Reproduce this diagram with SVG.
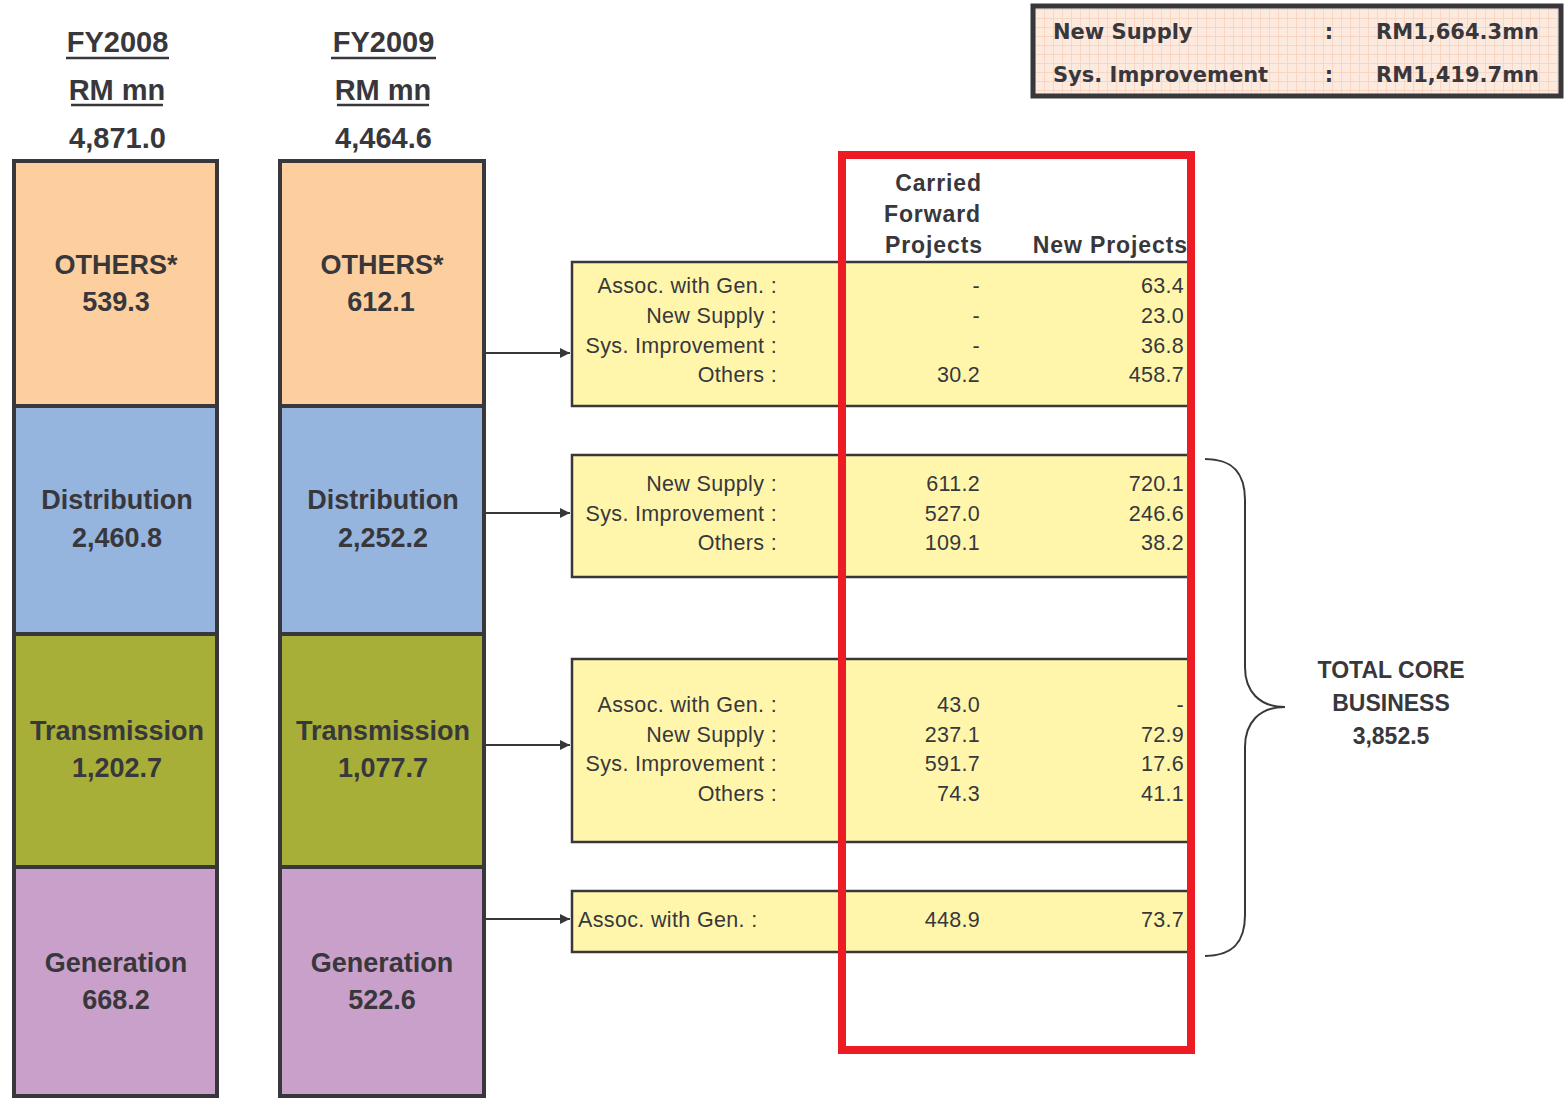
<svg xmlns="http://www.w3.org/2000/svg" width="1564" height="1098" viewBox="0 0 1564 1098">
<style>
.t{font-family:"Liberation Sans",Arial,sans-serif;fill:#38373c}
.b{font-weight:bold}
.h{font-size:29px;font-weight:bold;text-anchor:middle}
.bar{font-size:27px;font-weight:bold;text-anchor:middle}
.lab{font-size:21.5px;text-anchor:end;letter-spacing:0.35px}
.val{font-size:21.5px;text-anchor:end;letter-spacing:0.3px}
.col{font-size:23px;font-weight:bold;text-anchor:end;letter-spacing:0.9px}
.seg{stroke:#38373c;stroke-width:4}
.box{fill:#FFF6AB;stroke:#38373c;stroke-width:2.5}
.conn{stroke:#38373c;stroke-width:2;fill:none}
.leg{font-family:"DejaVu Sans",Verdana,sans-serif;font-size:21px;font-weight:bold;fill:#38373c}
</style>
<defs>
<marker id="ah" viewBox="0 0 10 10" refX="10" refY="5" markerWidth="5" markerHeight="5" orient="auto" markerUnits="strokeWidth">
<path d="M0,0 L10,5 L0,10 z" fill="#38373c"/>
</marker>
<pattern id="grid" width="9" height="9" patternUnits="userSpaceOnUse">
<rect width="9" height="9" fill="#FDEADF"/>
<path d="M0,0.5 H9 M0.5,0 V9" stroke="#F8D6C3" stroke-width="1"/>
</pattern>
</defs>
<rect width="1564" height="1098" fill="#ffffff"/>

<g id="legend">
<rect x="1033" y="6" width="528" height="90" fill="url(#grid)" stroke="#38373c" stroke-width="5"/>
<text class="leg" x="1053" y="38.5">New Supply</text>
<text class="leg" x="1329" y="38.5" text-anchor="middle">:</text>
<text class="leg" x="1539" y="38.5" text-anchor="end">RM1,664.3mn</text>
<text class="leg" x="1053" y="81.5">Sys. Improvement</text>
<text class="leg" x="1329" y="81.5" text-anchor="middle">:</text>
<text class="leg" x="1539" y="81.5" text-anchor="end">RM1,419.7mn</text>
</g>

<g id="header-fy2008">
<text class="t h" x="117.5" y="52">FY2008</text>
<line x1="66" y1="58" x2="169" y2="58" stroke="#38373c" stroke-width="2.5"/>
<text class="t h" x="117" y="99.5">RM mn</text>
<line x1="71" y1="105" x2="163" y2="105" stroke="#38373c" stroke-width="2.5"/>
<text class="t h" x="117.5" y="148">4,871.0</text>
</g>
<g id="header-fy2009">
<text class="t h" x="383.5" y="52">FY2009</text>
<line x1="331" y1="58" x2="436" y2="58" stroke="#38373c" stroke-width="2.5"/>
<text class="t h" x="383" y="99.5">RM mn</text>
<line x1="337" y1="105" x2="429" y2="105" stroke="#38373c" stroke-width="2.5"/>
<text class="t h" x="383.5" y="148">4,464.6</text>
</g>

<g id="bar-fy2008">
<rect class="seg" x="14" y="161" width="203" height="245" fill="#FDCF9E"/>
<rect class="seg" x="14" y="406" width="203" height="228" fill="#95B5DE"/>
<rect class="seg" x="14" y="634" width="203" height="233" fill="#A7AF38"/>
<rect class="seg" x="14" y="867" width="203" height="229" fill="#C9A0C9"/>
<text class="t bar" x="116" y="274">OTHERS*</text>
<text class="t bar" x="116" y="311">539.3</text>
<text class="t bar" x="117" y="509">Distribution</text>
<text class="t bar" x="117" y="546.5">2,460.8</text>
<text class="t bar" x="117" y="740">Transmission</text>
<text class="t bar" x="117" y="777">1,202.7</text>
<text class="t bar" x="116" y="972">Generation</text>
<text class="t bar" x="116" y="1008.5">668.2</text>
</g>

<g id="bar-fy2009">
<rect class="seg" x="280" y="161" width="204" height="245" fill="#FDCF9E"/>
<rect class="seg" x="280" y="406" width="204" height="228" fill="#95B5DE"/>
<rect class="seg" x="280" y="634" width="204" height="233" fill="#A7AF38"/>
<rect class="seg" x="280" y="867" width="204" height="229" fill="#C9A0C9"/>
<text class="t bar" x="382" y="274">OTHERS*</text>
<text class="t bar" x="381" y="311">612.1</text>
<text class="t bar" x="383" y="509">Distribution</text>
<text class="t bar" x="383" y="546.5">2,252.2</text>
<text class="t bar" x="383" y="740">Transmission</text>
<text class="t bar" x="383" y="777">1,077.7</text>
<text class="t bar" x="382" y="972">Generation</text>
<text class="t bar" x="382" y="1008.5">522.6</text>
</g>

<g id="connectors">
<line class="conn" x1="486" y1="353" x2="570" y2="353" marker-end="url(#ah)"/>
<line class="conn" x1="486" y1="513" x2="570" y2="513" marker-end="url(#ah)"/>
<line class="conn" x1="486" y1="745" x2="570" y2="745" marker-end="url(#ah)"/>
<line class="conn" x1="486" y1="919" x2="570" y2="919" marker-end="url(#ah)"/>
<path class="conn" stroke-width="1.6" d="M1205,459 C1234,459 1245,474 1245,500 L1245,667 C1245,691 1259,707 1285,707 C1259,707 1245,723 1245,747 L1245,915 C1245,941 1234,956 1205,956"/>
</g>

<g id="column-headers">
<text class="t col" x="982" y="191">Carried</text>
<text class="t col" x="981" y="222">Forward</text>
<text class="t col" x="983" y="253">Projects</text>
<text class="t col" x="1188" y="253">New Projects</text>
</g>

<g id="table-others">
<rect class="box" x="572" y="262" width="618" height="144"/>
<text class="t lab" x="777" y="293">Assoc. with Gen. :</text>
<text class="t lab" x="777" y="323">New Supply :</text>
<text class="t lab" x="777" y="353">Sys. Improvement :</text>
<text class="t lab" x="777" y="382">Others :</text>
<text class="t val" x="980" y="293">-</text>
<text class="t val" x="980" y="323">-</text>
<text class="t val" x="980" y="353">-</text>
<text class="t val" x="980" y="382">30.2</text>
<text class="t val" x="1184" y="293">63.4</text>
<text class="t val" x="1184" y="323">23.0</text>
<text class="t val" x="1184" y="353">36.8</text>
<text class="t val" x="1184" y="382">458.7</text>
</g>

<g id="table-distribution">
<rect class="box" x="572" y="455" width="618" height="122"/>
<text class="t lab" x="777" y="491">New Supply :</text>
<text class="t lab" x="777" y="521">Sys. Improvement :</text>
<text class="t lab" x="777" y="550">Others :</text>
<text class="t val" x="980" y="491">611.2</text>
<text class="t val" x="980" y="521">527.0</text>
<text class="t val" x="980" y="550">109.1</text>
<text class="t val" x="1184" y="491">720.1</text>
<text class="t val" x="1184" y="521">246.6</text>
<text class="t val" x="1184" y="550">38.2</text>
</g>

<g id="table-transmission">
<rect class="box" x="572" y="659" width="618" height="183"/>
<text class="t lab" x="777" y="712">Assoc. with Gen. :</text>
<text class="t lab" x="777" y="742">New Supply :</text>
<text class="t lab" x="777" y="771">Sys. Improvement :</text>
<text class="t lab" x="777" y="801">Others :</text>
<text class="t val" x="980" y="712">43.0</text>
<text class="t val" x="980" y="742">237.1</text>
<text class="t val" x="980" y="771">591.7</text>
<text class="t val" x="980" y="801">74.3</text>
<text class="t val" x="1184" y="712">-</text>
<text class="t val" x="1184" y="742">72.9</text>
<text class="t val" x="1184" y="771">17.6</text>
<text class="t val" x="1184" y="801">41.1</text>
</g>

<g id="table-generation">
<rect class="box" x="572" y="891" width="618" height="61"/>
<text class="t" font-size="21.5" letter-spacing="0.35" x="578" y="927">Assoc. with Gen. :</text>
<text class="t val" x="980" y="927">448.9</text>
<text class="t val" x="1184" y="927">73.7</text>
</g>

<g id="highlight">
<rect x="842" y="155" width="349" height="895" fill="none" stroke="#ED1C24" stroke-width="8"/>
</g>

<g id="total-core">
<text class="t b" font-size="23" text-anchor="middle" x="1391" y="678">TOTAL CORE</text>
<text class="t b" font-size="23" text-anchor="middle" x="1391" y="711">BUSINESS</text>
<text class="t b" font-size="23" text-anchor="middle" x="1391" y="744">3,852.5</text>
</g>
</svg>
